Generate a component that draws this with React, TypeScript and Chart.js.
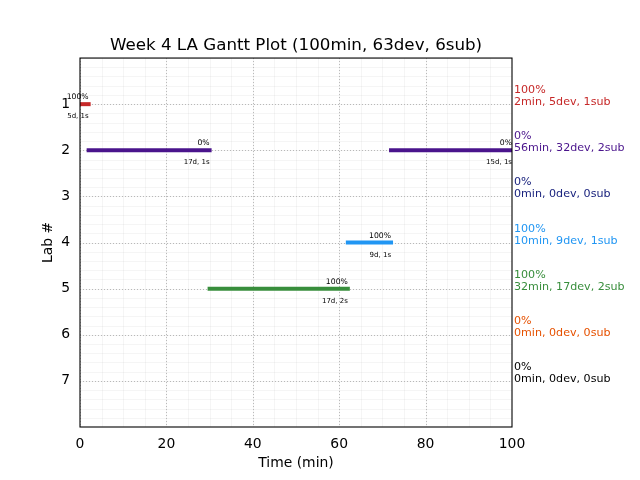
import React, { useEffect, useRef } from "react";
import { Chart, registerables } from "chart.js";

Chart.register(...registerables);

// ---- data ----
const labNumbers = [1, 2, 3, 4, 5, 6, 7];
const labColors = ["#c62828", "#4a148c", "#1a237e", "#2196f3", "#388e3c", "#e65100", "#000000"];
const labPercent = ["100%", "0%", "0%", "100%", "100%", "0%", "0%"];
const labSummary = [
  "2min, 5dev, 1sub",
  "56min, 32dev, 2sub",
  "0min, 0dev, 0sub",
  "10min, 9dev, 1sub",
  "32min, 17dev, 2sub",
  "0min, 0dev, 0sub",
  "0min, 0dev, 0sub",
];

const segLab = [1, 2, 2, 4, 5];
const segStart = [0, 2, 72, 62, 30];
const segEnd = [2, 30, 100, 72, 62];
const segPercent = ["100%", "0%", "0%", "100%", "100%"];
const segInfo = ["5d, 1s", "17d, 1s", "15d, 1s", "9d, 1s", "17d, 2s"];

const xTicks = [0, 20, 40, 60, 80, 100];
const yTicks = [1, 2, 3, 4, 5, 6, 7];
const xMinorStep = 5;
const yMinorStep = 0.2;

const FONT = "DejaVu Sans";

const gridPlugin = {
  id: "mplGrid",
  beforeDatasetsDraw(chart: any) {
    const { ctx, chartArea: a, scales } = chart;
    const xs = scales.x;
    const ys = scales.y;
    ctx.save();
    ctx.beginPath();
    ctx.rect(a.left, a.top, a.right - a.left, a.bottom - a.top);
    ctx.clip();
    // minor grid
    ctx.strokeStyle = "rgba(0,0,0,0.04)";
    ctx.lineWidth = 1;
    for (let v = xs.min; v <= xs.max + 1e-9; v += xMinorStep) {
      const p = Math.round(xs.getPixelForValue(v)) + 0.5;
      ctx.beginPath();
      ctx.moveTo(p, a.top);
      ctx.lineTo(p, a.bottom);
      ctx.stroke();
    }
    for (let v = Math.min(ys.min, ys.max); v <= Math.max(ys.min, ys.max) + 1e-9; v += yMinorStep) {
      const p = Math.round(ys.getPixelForValue(v)) + 0.5;
      ctx.beginPath();
      ctx.moveTo(a.left, p);
      ctx.lineTo(a.right, p);
      ctx.stroke();
    }
    // major dotted grid
    ctx.strokeStyle = "#b8b8b8";
    ctx.setLineDash([1, 2]);
    xTicks.forEach((v) => {
      const p = Math.round(xs.getPixelForValue(v)) + 0.5;
      ctx.beginPath();
      ctx.moveTo(p, a.top);
      ctx.lineTo(p, a.bottom);
      ctx.stroke();
    });
    yTicks.forEach((v) => {
      const p = Math.round(ys.getPixelForValue(v)) + 0.5;
      ctx.beginPath();
      ctx.moveTo(a.left, p);
      ctx.lineTo(a.right, p);
      ctx.stroke();
    });
    ctx.restore();
  },
  afterDatasetsDraw(chart: any) {
    const { ctx, chartArea: a, scales } = chart;
    const xs = scales.x;
    const ys = scales.y;
    ctx.save();
    // bar annotations
    ctx.fillStyle = "#000";
    ctx.textAlign = "right";
    ctx.textBaseline = "alphabetic";
    segLab.forEach((lab, i) => {
      const xe = xs.getPixelForValue(segEnd[i]);
      const y = ys.getPixelForValue(lab);
      ctx.font = `7.7px "${FONT}"`;
      ctx.fillText(segPercent[i], xe, y - 5);
      ctx.font = `7px "${FONT}"`;
      ctx.fillText(segInfo[i], xe, y + 14);
    });
    // right-hand summaries
    ctx.textAlign = "left";
    ctx.font = `11.1px "${FONT}"`;
    labNumbers.forEach((lab, i) => {
      const y = ys.getPixelForValue(lab);
      ctx.fillStyle = labColors[i];
      ctx.fillText(labPercent[i], a.right + 2, y - 11);
      ctx.fillText(labSummary[i], a.right + 2, y + 1);
    });
    // spines
    ctx.strokeStyle = "#000";
    ctx.lineWidth = 1.1;
    ctx.strokeRect(a.left, a.top, a.right - a.left, a.bottom - a.top);
    ctx.restore();
  },
};

export default function App() {
  const ref = useRef<HTMLCanvasElement | null>(null);
  useEffect(() => {
    if (!ref.current) return;
    const datasets = segLab.map((lab, i) => ({
      data: [
        { x: segStart[i], y: lab },
        { x: segEnd[i], y: lab },
      ],
      borderColor: labColors[lab - 1],
      backgroundColor: labColors[lab - 1],
      borderWidth: 4,
      borderCapStyle: "square" as const,
      pointRadius: 0,
      pointHoverRadius: 0,
      clip: 0,
      tension: 0,
    }));
    const chart = new Chart(ref.current, {
      type: "line",
      data: { datasets },
      options: {
        animation: false,
        responsive: false,
        devicePixelRatio: 1,
        events: [],
        layout: { padding: { left: 0, right: 128, top: 0, bottom: 0 } },
        plugins: {
          legend: { display: false },
          tooltip: { enabled: false },
          title: {
            display: true,
            fullSize: false,
            text: "Week 4 LA Gantt Plot (100min, 63dev, 6sub)",
            color: "#000",
            font: { family: FONT, size: 16.7, weight: "normal" },
            padding: { top: 36, bottom: 2 },
          },
        },
        scales: {
          x: {
            type: "linear",
            min: 0,
            max: 100,
            grid: { display: false, drawTicks: false },
            border: { display: false },
            afterBuildTicks: (s: any) => {
              s.ticks = xTicks.map((v) => ({ value: v }));
            },
            afterFit: (s: any) => {
              s.height = 53;
            },
            ticks: {
              color: "#000",
              font: { family: FONT, size: 13.9 },
              padding: 9,
              maxRotation: 0,
              autoSkip: false,
            },
            title: {
              display: true,
              text: "Time (min)",
              color: "#000",
              font: { family: FONT, size: 13.9 },
              padding: { top: 0, bottom: 8 },
            },
          },
          y: {
            type: "linear",
            min: 0,
            max: 8,
            reverse: true,
            grid: { display: false, drawTicks: false },
            border: { display: false },
            afterBuildTicks: (s: any) => {
              s.ticks = yTicks.map((v) => ({ value: v }));
            },
            afterFit: (s: any) => {
              s.width = 80;
            },
            ticks: {
              color: "#000",
              font: { family: FONT, size: 13.9 },
              padding: 10,
              autoSkip: false,
            },
            title: {
              display: true,
              text: "Lab #",
              color: "#000",
              font: { family: FONT, size: 13.9 },
              padding: { top: 39.6, bottom: 0 },
            },
          },
        },
      },
      plugins: [gridPlugin],
    });
    return () => chart.destroy();
  }, []);
  return (
    <div style={{ position: "fixed", left: 0, top: 0, width: 640, height: 480, background: "#fff" }}>
      <canvas ref={ref} width={640} height={480} style={{ width: 640, height: 480 }} />
    </div>
  );
}
